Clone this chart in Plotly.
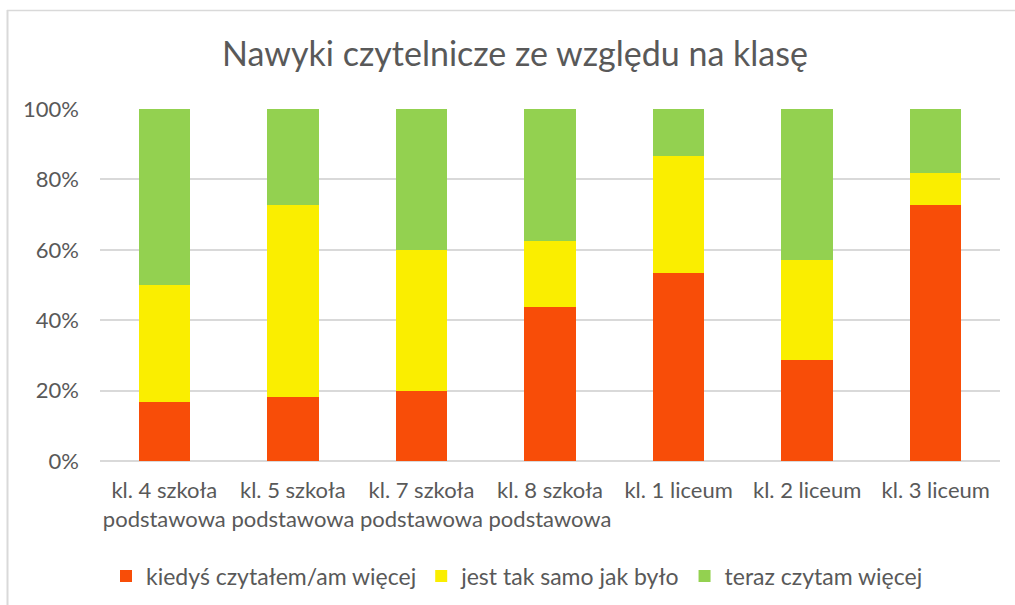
import plotly.graph_objects as go

categories = ["kl. 4 szkoła<br>podstawowa", "kl. 5 szkoła<br>podstawowa", "kl. 7 szkoła<br>podstawowa",
              "kl. 8 szkoła<br>podstawowa", "kl. 1 liceum", "kl. 2 liceum", "kl. 3 liceum"]
kiedys = [16.7, 18.2, 20.0, 43.75, 53.3, 28.6, 72.7]
tak_samo = [33.3, 54.5, 40.0, 18.75, 33.4, 28.6, 9.1]
teraz = [50.0, 27.3, 40.0, 37.5, 13.3, 42.8, 18.2]
series_names = ["kiedyś czytałem/am więcej", "jest tak samo jak było", "teraz czytam więcej"]
colors = ["#F84D08", "#FAEE00", "#93D150"]

W, H = 1015, 605
L, R, T, B = 100, 15, 109, 144
pw, ph = W - L - R, H - T - B

def px(x):
    return (x - L) / pw

def py(y):
    return (H - B - y) / ph

fig = go.Figure()
for name, vals, col in zip(series_names, [kiedys, tak_samo, teraz], colors):
    fig.add_trace(go.Bar(x=categories, y=vals, name=name, marker=dict(color=col, line=dict(width=0)),
                         width=0.4))

font_family = "Lato, 'Open Sans', sans-serif"
fig.update_layout(
    barmode="stack",
    width=W, height=H,
    paper_bgcolor="white", plot_bgcolor="white",
    margin=dict(l=L, r=R, t=T, b=B, autoexpand=False),
    title=dict(text="Nawyki czytelnicze ze względu na klasę", xref="container", x=515 / W,
               xanchor="center", yref="container", y=1 - 54 / H, yanchor="middle",
               font=dict(family=font_family, size=34, color="#595959")),
    font=dict(family=font_family, size=22, color="#595959"),
    xaxis=dict(showgrid=False, showline=False, ticks="", ticklabelstandoff=14,
               tickfont=dict(size=22, color="#595959")),
    yaxis=dict(range=[0, 100], tickvals=[0, 20, 40, 60, 80, 100],
               ticktext=["0%", "20%", "40%", "60%", "80%", "100%"],
               showgrid=True, gridcolor="#D9D9D9", gridwidth=1.5, zeroline=True,
               zerolinecolor="#D9D9D9", zerolinewidth=1.5, showline=False, ticks="",
               ticklabelstandoff=20, tickfont=dict(size=22, color="#595959")),
    legend=dict(orientation="h", x=px(106), xanchor="left", y=py(576), yanchor="middle",
                font=dict(size=23, color="#595959"), traceorder="normal",
                bgcolor="rgba(0,0,0,0)"),
    shapes=[
        dict(type="line", xref="paper", yref="paper", x0=px(7.5), x1=px(7.5), y0=py(10), y1=py(606),
             line=dict(color="#D9D9D9", width=2), layer="below"),
        dict(type="line", xref="paper", yref="paper", x0=px(7), x1=px(1016), y0=py(10.5), y1=py(10.5),
             line=dict(color="#D9D9D9", width=1.5), layer="below"),
    ],
)
fig.write_html("out.html", config={"displayModeBar": False},
               post_script="document.body.style.margin='0';")
